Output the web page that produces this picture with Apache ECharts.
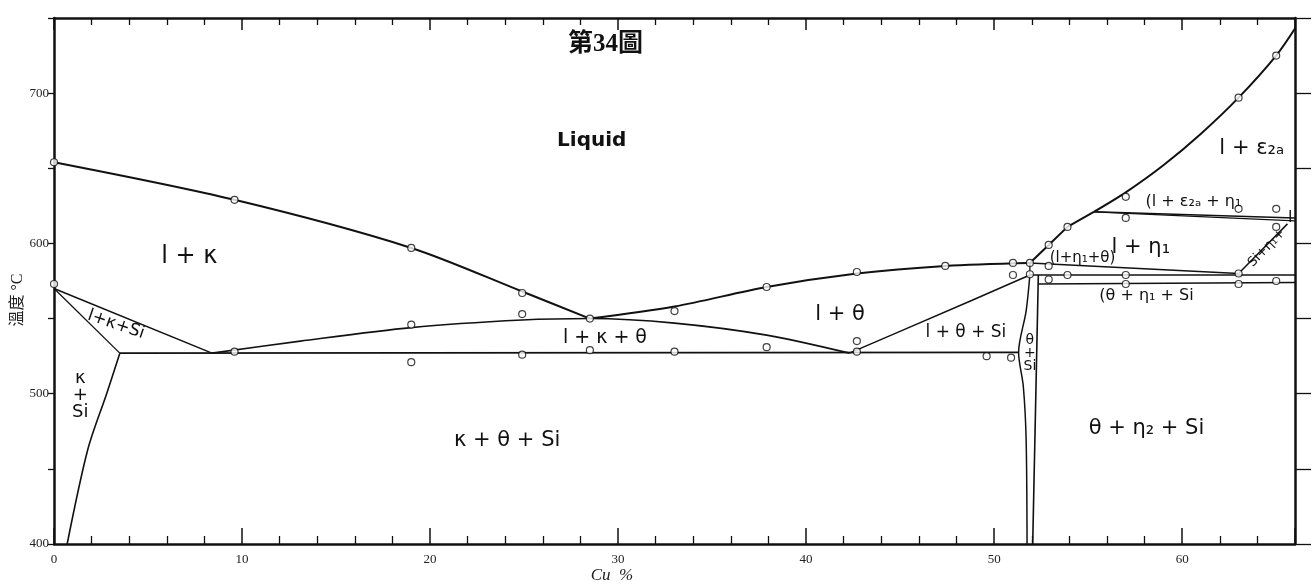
<!DOCTYPE html>
<html>
<head>
<meta charset="utf-8">
<style>
html, body { margin: 0; padding: 0; background: #fff; }
#main { width: 1313px; height: 587px; }
</style>
<script src="https://cdn.jsdelivr.net/npm/echarts/dist/echarts.min.js"></script>
</head>
<body>
<div id="main"></div>
<script>
// 第34圖  Cu % / 温度 (°C)
var xMin = 0, xMax = 66;
var yMin = 400, yMax = 750;
var xLabelValues = [0, 10, 20, 30, 40, 50, 60];
var yLabelValues = [400, 500, 600, 700];

// boundary lines [Cu %, °C]
var liqKappa = [[0, 654], [9.6, 629], [19, 597], [24.9, 568], [28.5, 550]];
var liqTheta = [[28.5, 550], [33, 558], [37.9, 571], [42.7, 580], [47.4, 585], [51.9, 587]];
var liqEta = [[51.9, 587], [52.9, 599], [53.9, 611], [55.3, 621]];
var liqEps = [[55.3, 621], [57, 634], [59, 652], [61, 673], [63, 697], [65, 725], [66, 743]];
var kSiUpper = [[0, 570], [8.4, 527]];
var kSiLower = [[0, 570], [3.5, 527]];
var kSiBound = [[3.5, 527], [2.8, 500], [1.8, 463], [0.7, 400]];
var eut527 = [[3.5, 527], [51.3, 527.5]];
var lktCurve = [[8.4, 527], [13.1, 535], [19, 544], [24.9, 549], [28.5, 550], [33, 547], [37.9, 539], [42.3, 527]];
var ltSiUpper = [[42.3, 527], [44.9, 541], [48.8, 562], [51.9, 579]];
var ltShort = [[51.9, 579], [51.9, 587]];
var thSiLeft = [[51.9, 579], [51.7, 555], [51.3, 527.5], [51.55, 505], [51.7, 470], [51.75, 400]];
var thSiRight = [[52.35, 579], [52.05, 400]];
var h579 = [[51.9, 579], [66, 579]];
var h573 = [[52.35, 573], [66, 574]];
var lEtaTheta = [[51.9, 587], [63, 580]];
var siEtaL = [[63, 580], [65.6, 613]];
var epsTop = [[55.3, 621], [66, 617]];
var epsBottom = [[55.3, 621], [66, 615]];

// measured points (open circles)
var points = [
  [0, 654], [0, 573],
  [9.6, 629], [9.6, 528],
  [19, 597], [19, 546], [19, 521],
  [24.9, 567], [24.9, 553], [24.9, 526],
  [28.5, 550], [28.5, 529],
  [33, 555], [33, 528],
  [37.9, 571], [37.9, 531],
  [42.7, 581], [42.7, 535], [42.7, 528],
  [47.4, 585],
  [49.6, 525], [50.9, 524],
  [51, 587], [51, 579], [51.9, 587], [51.9, 579.5],
  [52.9, 599], [52.9, 585], [52.9, 576],
  [53.9, 611], [53.9, 579],
  [57, 631], [57, 617], [57, 579], [57, 573],
  [63, 697], [63, 623], [63, 580], [63, 573],
  [65, 725], [65, 623], [65, 611], [65, 575]
];

// region names [text, Cu, °C, size, rotation]
var regionLabels = [
  ['Liquid', 28.6, 668, 20, 0],
  ['l + κ', 7.2, 591, 24, 0],
  ['l+κ+Si', 3.3, 546, 17, -0.33],
  ['κ\n+\nSi', 1.4, 499, 18, 0],
  ['κ + θ + Si', 24.1, 469, 21, 0],
  ['l + κ + θ', 29.3, 537, 19, 0],
  ['l + θ', 41.8, 553, 21, 0],
  ['l + θ + Si', 48.5, 541, 17, 0],
  ['θ\n+\nSi', 51.9, 527, 14, 0],
  ['θ + η₂ + Si', 58.1, 477, 21, 0],
  ['(θ + η₁ + Si', 58.1, 565, 16, 0],
  ['(l+η₁+θ)', 54.7, 590, 15, 0],
  ['l + η₁', 57.8, 597, 21, 0],
  ['(l + ε₂ₐ + η₁', 60.6, 628, 16, 0],
  ['l + ε₂ₐ', 63.7, 663, 21, 0],
  ['Si+η₁+', 64.5, 597, 13, 0.8],
  ['l', 65.75, 617, 16, 0]
];

var chart = echarts.init(document.getElementById('main'));

function line(data, width, smooth) {
  return {
    type: 'line',
    data: data,
    showSymbol: false,
    smooth: smooth || false,
    lineStyle: { color: '#111', width: width },
    silent: true,
    z: 2
  };
}

var axisFont = { fontFamily: '"Liberation Serif", serif', fontSize: 13, color: '#222' };
var frameLine = { show: true, onZero: false, lineStyle: { color: '#111', width: 2.5 } };

chart.setOption({
  animation: false,
  backgroundColor: '#fff',
  title: {
    text: '第34圖',
    left: 563,
    top: 27,
    textStyle: { fontFamily: '"Liberation Serif", "Noto Sans CJK TC"', fontWeight: 'bold', fontSize: 25, color: '#111' }
  },
  grid: { left: 54, right: 18, top: 18, bottom: 43 },
  xAxis: [{
    type: 'value', min: xMin, max: xMax, interval: 10, position: 'bottom',
    axisLine: frameLine,
    axisTick: { inside: true, length: 16, lineStyle: { color: '#111', width: 1.5 } },
    minorTick: { show: true, splitNumber: 5, length: 8, lineStyle: { color: '#111', width: 1.3 } },
    axisLabel: Object.assign({
      margin: 9,
      formatter: function (v) { return xLabelValues.indexOf(v) >= 0 ? String(v) : ''; }
    }, axisFont),
    splitLine: { show: false }
  }, {
    type: 'value', min: xMin, max: xMax, interval: 10, position: 'top',
    axisLine: frameLine,
    axisTick: { inside: true, length: 12, lineStyle: { color: '#111', width: 1.5 } },
    minorTick: { show: true, splitNumber: 5, length: 7, lineStyle: { color: '#111', width: 1.3 } },
    axisLabel: { show: false },
    splitLine: { show: false }
  }],
  yAxis: [{
    type: 'value', min: yMin, max: yMax, interval: 50, position: 'left',
    axisLine: frameLine,
    axisTick: { show: true, inside: false, length: 6, lineStyle: { color: '#111', width: 1.3 } },
    axisLabel: Object.assign({
      margin: 5,
      formatter: function (v) { return yLabelValues.indexOf(v) >= 0 ? String(v) : ''; }
    }, axisFont),
    splitLine: { show: false }
  }, {
    type: 'value', min: yMin, max: yMax, interval: 50, position: 'right',
    axisLine: frameLine,
    axisTick: { show: true, inside: false, length: 16, lineStyle: { color: '#111', width: 1.3 } },
    axisLabel: { show: false },
    splitLine: { show: false }
  }],
  series: [
    line(liqKappa, 2, 0.3),
    line(liqTheta, 2, 0.3),
    line(liqEta, 2),
    line(liqEps, 2, 0.3),
    line(kSiUpper, 1.5),
    line(kSiLower, 1.3),
    line(kSiBound, 1.6, 0.3),
    line(eut527, 1.6),
    line(lktCurve, 1.6, 0.3),
    line(ltSiUpper, 1.5),
    line(ltShort, 1.3),
    line(thSiLeft, 1.5, 0.3),
    line(thSiRight, 1.6),
    line(h579, 1.6),
    line(h573, 1.6),
    line(lEtaTheta, 1.5),
    line(siEtaL, 1.5),
    line(epsTop, 1.5),
    line(epsBottom, 1.3),
    {
      type: 'scatter',
      data: points,
      symbol: 'circle',
      symbolSize: 7,
      itemStyle: { color: '#fff', borderColor: '#111', borderWidth: 1.2 },
      silent: true,
      z: 5
    }
  ]
});

// texts placed from data coordinates
var texts = regionLabels.map(function (r) {
  var p = chart.convertToPixel({ xAxisIndex: 0, yAxisIndex: 0 }, [r[1], r[2]]);
  return {
    type: 'text',
    x: p[0], y: p[1],
    rotation: r[4],
    z: 10,
    style: {
      text: r[0],
      fontFamily: '"DejaVu Sans", sans-serif',
      fontSize: r[3],
      fontWeight: r[0] === 'Liquid' ? 'bold' : 'normal',
      lineHeight: Math.round(r[3] * 0.95),
      fill: '#111',
      align: 'center',
      verticalAlign: 'middle'
    }
  };
});

texts.push({
  type: 'text', x: 18, y: 300, rotation: Math.PI / 2, z: 10,
  style: { text: '溫度 °C', fontFamily: '"Liberation Serif", "Noto Sans CJK TC"', fontSize: 16, fill: '#222', align: 'center', verticalAlign: 'middle' }
});
texts.push({
  type: 'text', x: 612, y: 576, z: 10,
  style: { text: 'Cu  %', fontFamily: '"Liberation Serif", serif', fontStyle: 'italic', fontSize: 17, fill: '#222', align: 'center', verticalAlign: 'middle' }
});

chart.setOption({ graphic: texts });
</script>
</body>
</html>
